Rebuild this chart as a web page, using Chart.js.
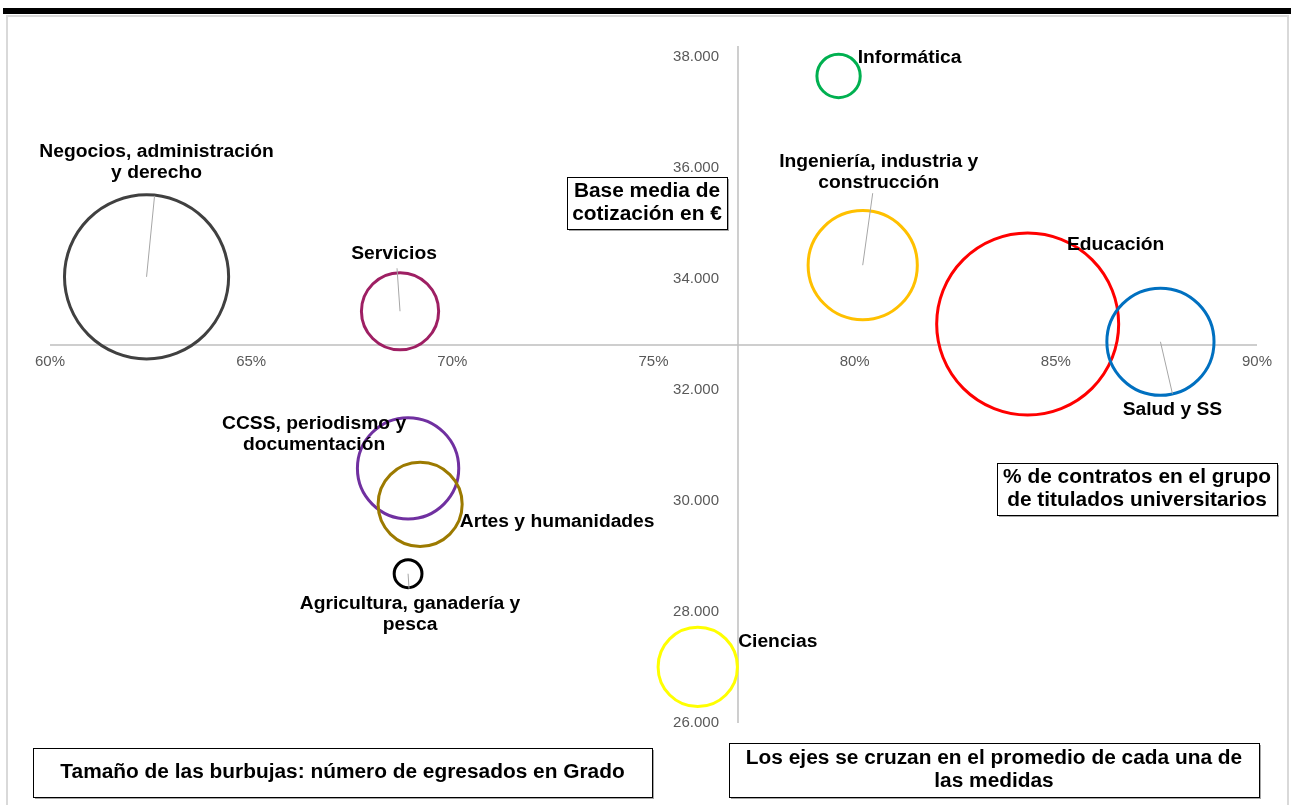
<!DOCTYPE html>
<html>
<head>
<meta charset="utf-8">
<script src="https://cdn.jsdelivr.net/npm/chart.js@4.4.1/dist/chart.umd.min.js"></script>
<style>
  html, body { margin: 0; padding: 0; background: #fff; }
  #wrap { position: relative; width: 1291px; height: 805px; }
  canvas { display: block; }
</style>
</head>
<body>
<div id="wrap"><canvas id="chart" width="1291" height="805"></canvas></div>
<script>
// datos
const areas = [
  'Negocios, administración y derecho', 'Servicios', 'Informática',
  'Ingeniería, industria y construcción', 'Educación', 'Salud y SS',
  'CCSS, periodismo y documentación', 'Artes y humanidades',
  'Agricultura, ganadería y pesca', 'Ciencias'
];
const contratosPct = [62.4, 68.7, 79.6, 80.2, 84.3, 87.6, 68.9, 69.2, 68.9, 76.1];
const baseMedia = [34040, 33420, 37660, 34250, 33190, 32870, 30590, 29940, 28690, 27010];
const egresados = [24400, 5400, 1700, 10800, 30000, 10400, 9300, 6400, 700, 5700];
const xTicks = [60, 65, 70, 75, 80, 85, 90];
const yTicks = [26000, 28000, 30000, 32000, 34000, 36000, 38000];
const promedioX = 77.1;
const promedioY = 32810;

// estilos
const colores = ['#404040', '#9E1F63', '#00B050', '#FFC000', '#FF0000',
                 '#0070C0', '#7030A0', '#9C7A00', '#000000', '#FFFF00'];
// etiquetas: líneas de texto, desplazamiento respecto al centro, línea guía
const etiquetas = [
  { lines: ['Negocios, administración', 'y derecho'], dx: 10, dy: -125, lead: [8, -81] },
  { lines: ['Servicios'], dx: -6, dy: -57, lead: [-3, -43] },
  { lines: ['Informática'], dx: 71, dy: -18 },
  { lines: ['Ingeniería, industria y', 'construcción'], dx: 16, dy: -103, lead: [10, -72] },
  { lines: ['Educación'], dx: 88, dy: -79 },
  { lines: ['Salud y SS'], dx: 12, dy: 68, lead: [12, 52] },
  { lines: ['CCSS, periodismo y', 'documentación'], dx: -94, dy: -44 },
  { lines: ['Artes y humanidades'], dx: 137, dy: 18 },
  { lines: ['Agricultura, ganadería y', 'pesca'], dx: 2, dy: 30, lead: [1, 15] },
  { lines: ['Ciencias'], dx: 80, dy: -25 }
];
const cajas = [
  { x: 567, y: 177, w: 160, h: 52, lines: ['Base media de', 'cotización en €'] },
  { x: 997, y: 463, w: 280, h: 52, lines: ['% de contratos en el grupo', 'de titulados universitarios'] },
  { x: 33, y: 748, w: 619, h: 49, lines: ['Tamaño de las burbujas: número de egresados en Grado'] },
  { x: 729, y: 743, w: 530, h: 54, lines: ['Los ejes se cruzan en el promedio de cada una de', 'las medidas'] }
];

const FONT_LABEL = 'bold 18px "Liberation Sans", Arial, sans-serif';
const FONT_BOX = 'bold 19.5px "Liberation Sans", Arial, sans-serif';
const FONT_TICK = '15px "Liberation Sans", Arial, sans-serif';
const ESTIRA = 1.07; // el original está algo ensanchado
const maxEgr = Math.max(...egresados);
const radio = n => 91 * Math.sqrt(n / maxEgr);

const puntos = contratosPct.map((x, i) => ({ x, y: baseMedia[i], r: radio(egresados[i]) }));

function texto(ctx, t, x, y) {
  ctx.save();
  ctx.translate(x, y);
  ctx.scale(ESTIRA, 1);
  ctx.fillText(t, 0, 0);
  ctx.restore();
}

const decoracion = {
  id: 'decoracion',
  beforeDraw(chart) {
    const ctx = chart.ctx;
    ctx.save();
    ctx.fillStyle = '#000';
    ctx.fillRect(3, 8, 1288, 6);
    ctx.strokeStyle = '#D9D9D9';
    ctx.lineWidth = 2;
    ctx.strokeRect(7, 16, 1281, 800);
    ctx.restore();
  },
  beforeDatasetsDraw(chart) {
    // ejes cruzados en el promedio
    const ctx = chart.ctx;
    const xs = chart.scales.x, ys = chart.scales.y;
    const yCruce = ys.getPixelForValue(promedioY);
    const xCruce = xs.getPixelForValue(promedioX);
    ctx.save();
    ctx.strokeStyle = '#BFBFBF';
    ctx.lineWidth = 1.5;
    ctx.beginPath();
    ctx.moveTo(xs.left, yCruce);
    ctx.lineTo(xs.right, yCruce);
    ctx.moveTo(xCruce, ys.top);
    ctx.lineTo(xCruce, ys.bottom);
    ctx.stroke();
    ctx.restore();
  },
  afterDatasetsDraw(chart) {
    const ctx = chart.ctx;
    const xs = chart.scales.x, ys = chart.scales.y;
    ctx.save();
    // etiquetas de ejes
    ctx.font = FONT_TICK;
    ctx.fillStyle = '#595959';
    ctx.textAlign = 'center';
    ctx.textBaseline = 'middle';
    const yCruce = ys.getPixelForValue(promedioY);
    xTicks.forEach(v => ctx.fillText(v + '%', xs.getPixelForValue(v), yCruce + 17));
    const xCruce = xs.getPixelForValue(promedioX);
    ctx.textAlign = 'right';
    yTicks.forEach(v => ctx.fillText(v.toLocaleString('de-DE'), xCruce - 19, ys.getPixelForValue(v)));

    // líneas guía y etiquetas de burbujas
    const meta = chart.getDatasetMeta(0);
    meta.data.forEach((el, i) => {
      const e = etiquetas[i];
      if (e.lead) {
        ctx.strokeStyle = '#A6A6A6';
        ctx.lineWidth = 1;
        ctx.beginPath();
        ctx.moveTo(el.x, el.y);
        ctx.lineTo(el.x + e.lead[0], el.y + e.lead[1]);
        ctx.stroke();
      }
      ctx.font = FONT_LABEL;
      ctx.fillStyle = '#000';
      ctx.textAlign = 'center';
      ctx.textBaseline = 'middle';
      e.lines.forEach((t, k) => texto(ctx, t, el.x + e.dx, el.y + e.dy + k * 21));
    });

    // cuadros de texto
    cajas.forEach(c => {
      ctx.fillStyle = '#A6A6A6';
      ctx.fillRect(c.x + 2, c.y + 2, c.w, c.h);
      ctx.fillStyle = '#fff';
      ctx.fillRect(c.x, c.y, c.w, c.h);
      ctx.strokeStyle = '#000';
      ctx.lineWidth = 1;
      ctx.strokeRect(c.x + 0.5, c.y + 0.5, c.w, c.h);
      ctx.fillStyle = '#000';
      ctx.font = FONT_BOX;
      ctx.textAlign = 'center';
      ctx.textBaseline = 'middle';
      const n = c.lines.length;
      c.lines.forEach((t, k) => texto(ctx, t, c.x + c.w / 2, c.y + c.h / 2 + (k - (n - 1) / 2) * 23));
    });
    ctx.restore();
  }
};

new Chart(document.getElementById('chart').getContext('2d'), {
  type: 'bubble',
  data: {
    datasets: [{
      label: 'Egresados',
      data: puntos,
      borderColor: colores,
      backgroundColor: 'rgba(0,0,0,0)',
      borderWidth: 3,
      clip: false
    }]
  },
  options: {
    responsive: false,
    animation: false,
    devicePixelRatio: 1,
    layout: { autoPadding: false, padding: { left: 50, right: 34, top: 46, bottom: 82 } },
    plugins: { legend: { display: false }, tooltip: { enabled: false } },
    scales: {
      x: { type: 'linear', min: 60, max: 90, display: false },
      y: { type: 'linear', min: 26000, max: 38200, display: false }
    }
  },
  plugins: [decoracion]
});
</script>
</body>
</html>
